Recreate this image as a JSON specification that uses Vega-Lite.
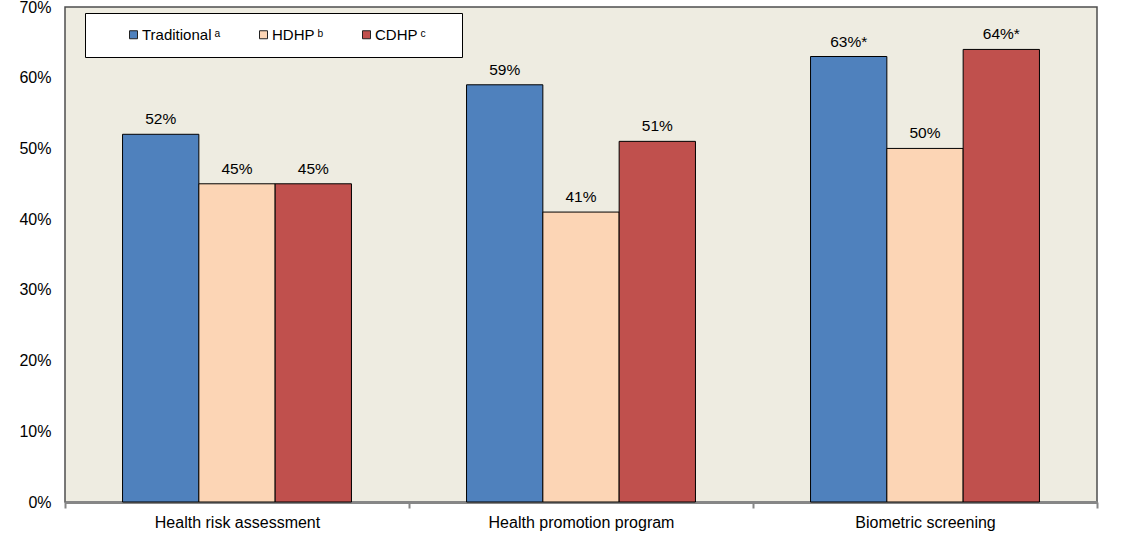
{
  "$schema": "https://vega.github.io/schema/vega-lite/v6.json",
  "autosize": "none",
  "width": 1032,
  "height": 495,
  "padding": {"left": 65, "top": 7, "right": 30, "bottom": 38},
  "background": "white",
  "config": {
    "font": "Liberation Sans",
    "view": {"fill": "#EEECE1", "stroke": "#4d4d4d", "strokeWidth": 1.5},
    "axis": {"labelFont": "Liberation Sans", "labelColor": "#000000", "grid": false, "title": null}
  },
  "data": {
    "values": [
      {"measure": "Health risk assessment", "plan": "Traditional", "value": 52, "note": ""},
      {"measure": "Health risk assessment", "plan": "HDHP", "value": 45, "note": ""},
      {"measure": "Health risk assessment", "plan": "CDHP", "value": 45, "note": ""},
      {"measure": "Health promotion program", "plan": "Traditional", "value": 59, "note": ""},
      {"measure": "Health promotion program", "plan": "HDHP", "value": 41, "note": ""},
      {"measure": "Health promotion program", "plan": "CDHP", "value": 51, "note": ""},
      {"measure": "Biometric screening", "plan": "Traditional", "value": 63, "note": "*"},
      {"measure": "Biometric screening", "plan": "HDHP", "value": 50, "note": ""},
      {"measure": "Biometric screening", "plan": "CDHP", "value": 64, "note": "*"}
    ]
  },
  "transform": [
    {"calculate": "format(datum.value, 'd') + '%' + datum.note", "as": "label"}
  ],
  "encoding": {
    "x": {
      "field": "measure",
      "type": "nominal",
      "sort": ["Health risk assessment", "Health promotion program", "Biometric screening"],
      "scale": {"paddingInner": 0, "paddingOuter": 0},
      "axis": {
        "labelAngle": 0,
        "labelFontSize": 16,
        "labelLimit": 330,
        "labelPadding": 6,
        "tickBand": "extent",
        "tickSize": 6,
        "tickWidth": 2,
        "tickColor": "#868686",
        "domainColor": "#868686",
        "domainWidth": 3
      }
    },
    "xOffset": {
      "field": "plan",
      "type": "nominal",
      "sort": ["Traditional", "HDHP", "CDHP"],
      "scale": {"paddingInner": 0, "paddingOuter": 0.754}
    },
    "y": {
      "field": "value",
      "type": "quantitative",
      "scale": {"domain": [0, 70], "nice": false},
      "axis": {
        "values": [0, 10, 20, 30, 40, 50, 60, 70],
        "labelExpr": "datum.value + '%'",
        "labelFontSize": 16,
        "labelPadding": 14,
        "ticks": false,
        "domain": false
      }
    }
  },
  "layer": [
    {
      "mark": {"type": "bar", "stroke": "#000000", "strokeWidth": 1},
      "encoding": {
        "color": {
          "field": "plan",
          "type": "nominal",
          "sort": ["Traditional", "HDHP", "CDHP"],
          "scale": {"domain": ["Traditional", "HDHP", "CDHP"], "range": ["#4F81BD", "#FCD5B5", "#C0504D"]},
          "legend": {
            "orient": "none",
            "legendX": 20,
            "legendY": 6,
            "direction": "horizontal",
            "columns": 3,
            "title": " ",
            "titleOrient": "left",
            "titleFontSize": 1,
            "titlePadding": 27,
            "fillColor": "#ffffff",
            "strokeColor": "#000000",
            "padding": 14,
            "symbolType": "square",
            "symbolSize": 64,
            "symbolStrokeColor": "#222222",
            "symbolStrokeWidth": 1,
            "labelFont": "Liberation Sans",
            "labelFontSize": 15,
            "labelColor": "#000000",
            "labelOffset": 1,
            "columnPadding": 35,
            "labelExpr": "datum.label == 'Traditional' ? 'Traditional\u2009\u1d43' : datum.label == 'HDHP' ? 'HDHP\u2009\u1d47' : 'CDHP\u2009\u1d9c\u2800\u2800'"
          }
        }
      }
    },
    {
      "mark": {"type": "text", "baseline": "alphabetic", "dy": -10, "fontSize": 15.5, "color": "#000000"},
      "encoding": {
        "text": {"field": "label"}
      }
    }
  ]
}
